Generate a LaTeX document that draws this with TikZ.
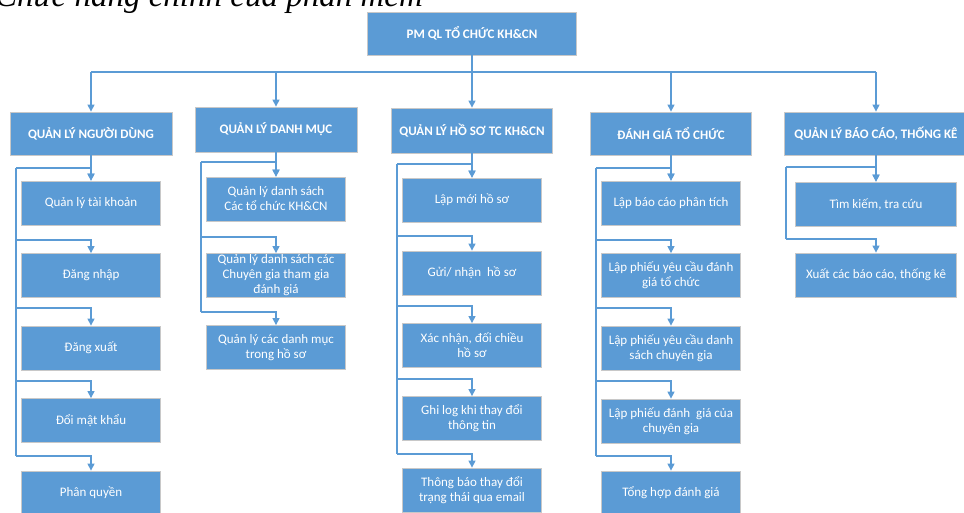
\documentclass[tikz,border=0pt]{standalone}
\usepackage{fontspec}
\setmainfont{Carlito}
\newfontfamily\capfont{Liberation Serif}
\usetikzlibrary{arrows.meta}
\definecolor{boxblue}{HTML}{5B9BD5}
\definecolor{boxedge}{HTML}{C8C8C8}
\begin{document}
\begin{tikzpicture}[x=1pt,y=-1pt,
  box/.style={draw=boxedge, line width=0.8pt, fill=boxblue, text=white, inner sep=0pt, align=center, font=\fontsize{13}{15}\selectfont},
  head/.style={box, font=\fontsize{13}{15}\selectfont\bfseries, minimum height=44pt},
  sub/.style={box, minimum width=139pt, minimum height=44pt},
  wire/.style={draw=boxblue, line width=1.2pt},
  conn/.style={wire, -{Triangle[width=7pt,length=7pt]}}]
\useasboundingbox (0,0) rectangle (964,512);
\clip (0,0) rectangle (964,512);

\node[anchor=base west, inner sep=0pt, font=\capfont\itshape\fontsize{33}{40}\selectfont] (cap) at (-5,6) {Chức năng chính của phần mềm};

\node[head, minimum width=209pt, minimum height=43pt] (top) at (472,33.5) {PM QL TỔ CHỨC KH\&CN};

\node[head, minimum width=162pt, minimum height=43pt] (h1) at (91,133.5) {QUẢN LÝ NGƯỜI DÙNG};
\node[head, minimum width=162pt, minimum height=45pt] (h2) at (276,129.5) {QUẢN LÝ DANH MỤC};
\node[head, minimum width=161pt, minimum height=45pt] (h3) at (472,130.5) {QUẢN LÝ HỒ SƠ TC KH\&CN};
\node[head, minimum width=161pt, minimum height=43pt] (h4) at (671,133.5) {ĐÁNH GIÁ TỔ CHỨC};
\node[head, minimum width=184pt, minimum height=43pt] (h5) at (876,133.5) {QUẢN LÝ BÁO CÁO, THỐNG KÊ};

\node[sub] (c11) at (91,203) {Quản lý tài khoản};
\node[sub] (c12) at (91,275.5) {Đăng nhập};
\node[sub] (c13) at (91,348) {Đăng xuất};
\node[sub] (c14) at (91,420.5) {Đổi mật khẩu};
\node[sub] (c15) at (91,493) {Phân quyền};

\node[sub] (c21) at (276,199) {Quản lý danh sách\\Các tổ chức KH\&CN};
\node[sub] (c22) at (276,275.5) {Quản lý danh sách các\\Chuyên gia tham gia\\đánh giá};
\node[sub] (c23) at (276,347.5) {Quản lý các danh mục\\trong hồ sơ};

\node[sub] (c31) at (472,200) {Lập mới hồ sơ};
\node[sub] (c32) at (472,273) {Gửi/ nhận\ \ hồ sơ};
\node[sub] (c33) at (472,345.5) {Xác nhận, đối chiều\\hồ sơ};
\node[sub] (c34) at (472,418.5) {Ghi log khi thay đổi\\thông tin};
\node[sub] (c35) at (472,490) {Thông báo thay đổi\\trạng thái qua email};

\node[sub] (c41) at (671,203) {Lập báo cáo phân tích};
\node[sub] (c42) at (671,275.5) {Lập phiếu yêu cầu đánh\\giá tổ chức};
\node[sub] (c43) at (671,348) {Lập phiếu yêu cầu danh\\sách chuyên gia};
\node[sub] (c44) at (671,421) {Lập phiếu đánh\ \ giá của\\chuyên gia};
\node[sub] (c45) at (671,493) {Tổng hợp đánh giá};

\node[sub, minimum width=161pt] (c51) at (876,204) {Tìm kiếm, tra cứu};
\node[sub, minimum width=161pt] (c52) at (876,275) {Xuất các báo cáo, thống kê};

% top level connectors
\coordinate (bar) at (472,72);
\draw[wire] (bar -| h1.north) -- (bar -| h5.north);
\foreach \h in {1,2,4,5} \draw[conn] (bar -| h\h.north) -- (h\h.north);
\draw[conn] (top.south) -- (h3.north);

% column connectors
\foreach \col/\tx/\ylist in {1/16/{168,240,308,381,456},2/201/{162,237,312},3/397/{164,236,306,379,454},4/596/{168,240,308,381,456},5/786/{167,239}} {
  \foreach \yy [count=\i, remember=\i as \j (initially 0)] in \ylist {
    \coordinate (k\col\i) at (\tx,\yy);
    \ifnum\i>1 \draw[wire] (k\col\j) -- (k\col\i); \fi
    \draw[conn] (k\col\i) -| (c\col\i.north);
  }
  \draw[conn] (h\col.south) -- (c\col1.north);
}
\end{tikzpicture}
\end{document}
